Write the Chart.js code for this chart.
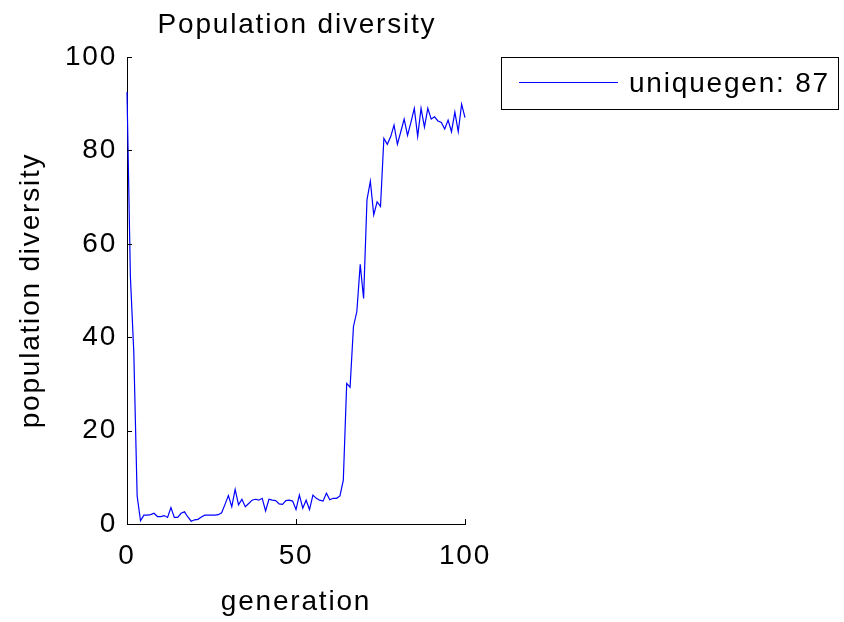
<!DOCTYPE html>
<html>
<head>
<meta charset="utf-8">
<title>Population diversity</title>
<script src="https://cdn.jsdelivr.net/npm/chart.js@4/dist/chart.umd.min.js"></script>
<style>
  html, body { margin: 0; padding: 0; background: #ffffff; }
  canvas { display: block; }
</style>
</head>
<body>
<canvas id="chart" width="844" height="622"></canvas>
<script>
// Generation index along the x axis
const generations = [
  0, 1, 2, 3, 4, 5, 6, 7, 8, 9,
  10, 11, 12, 13, 14, 15, 16, 17, 18, 19,
  20, 21, 22, 23, 24, 25, 26, 27, 28, 29,
  30, 31, 32, 33, 34, 35, 36, 37, 38, 39,
  40, 41, 42, 43, 44, 45, 46, 47, 48, 49,
  50, 51, 52, 53, 54, 55, 56, 57, 58, 59,
  60, 61, 62, 63, 64, 65, 66, 67, 68, 69,
  70, 71, 72, 73, 74, 75, 76, 77, 78, 79,
  80, 81, 82, 83, 84, 85, 86, 87, 88, 89,
  90, 91, 92, 93, 94, 95, 96, 97, 98, 99,
  100
];

// Number of unique genotypes per generation
const diversity = [
  92.5, 53, 37, 6, 0.7, 1.9, 1.9, 2.0, 2.3, 1.6,
  1.6, 1.8, 1.4, 3.5, 1.4, 1.4, 2.3, 2.6, 1.5, 0.6,
  0.9, 1.0, 1.5, 1.9, 1.9, 1.9, 1.9, 2.0, 2.4, 4.2,
  6.1, 3.7, 7.4, 4.1, 5.3, 3.7, 4.4, 5.1, 5.3, 5.1,
  5.5, 2.8, 5.3, 5.1, 5.0, 4.3, 4.2, 5.0, 5.1, 4.9,
  3.1, 6.2, 3.4, 5.1, 3.1, 6.2, 5.5, 5.1, 4.9, 6.6,
  5.2, 5.5, 5.5, 6.0, 9.4, 30.1, 29.3, 42.3, 45.5, 55.6,
  48.3, 69.4, 73.4, 66.2, 69, 68, 82.6, 81.3, 82.9, 85.4,
  81.3, 84, 86.7, 83.2, 86, 89, 83, 89, 85, 89,
  86.7, 87.2, 86.3, 86, 84.6, 86.5, 84, 88.2, 84, 89.9,
  87
];

const seriesName = 'uniquegen';
const xTickValues = [0, 50, 100];
const yTickValues = [0, 20, 40, 60, 80, 100];
const chartTitle = 'Population diversity';
const xTitle = 'generation';
const yTitle = 'population diversity';

const FONT_FAMILY = "'Liberation Sans', Arial, Helvetica, sans-serif";
const FONT_SIZE = 28;
const LETTER_SPACING = '1.8px';
const LINE_BLUE = '#0000ff';

// Legend entry shows the final generation's value
const legendText = seriesName + ': ' + Math.round(diversity[diversity.length - 1]);

const points = generations.map((g, i) => ({ x: g, y: diversity[i] }));

// Wider glyph spacing for all canvas text
const spacingPlugin = {
  id: 'spacing',
  beforeUpdate(chart) { chart.ctx.letterSpacing = LETTER_SPACING; },
  beforeDraw(chart) { chart.ctx.letterSpacing = LETTER_SPACING; }
};

// Inward-pointing tick marks on the left and bottom axes
const innerTicksPlugin = {
  id: 'innerTicks',
  afterDatasetsDraw(chart) {
    const { ctx, chartArea, scales } = chart;
    const len = 5;
    ctx.save();
    ctx.strokeStyle = '#000000';
    ctx.lineWidth = 1;
    ctx.beginPath();
    xTickValues.forEach(v => {
      const px = Math.round(scales.x.getPixelForValue(v)) + 0.5;
      ctx.moveTo(px, chartArea.bottom);
      ctx.lineTo(px, chartArea.bottom - len);
    });
    yTickValues.forEach(v => {
      const py = Math.round(scales.y.getPixelForValue(v)) + 0.5;
      ctx.moveTo(chartArea.left, py);
      ctx.lineTo(chartArea.left + len, py);
    });
    ctx.stroke();
    ctx.restore();
  }
};

// Title above the plot area and boxed legend to its right
const annotationPlugin = {
  id: 'annotations',
  afterDraw(chart) {
    const { ctx, chartArea } = chart;
    ctx.save();
    ctx.letterSpacing = LETTER_SPACING;
    ctx.font = FONT_SIZE + 'px ' + FONT_FAMILY;
    ctx.fillStyle = '#000000';
    ctx.textAlign = 'center';
    ctx.textBaseline = 'middle';
    ctx.fillText(chartTitle, (chartArea.left + chartArea.right) / 2 + 1, 25);

    // legend box
    const bx = 501.5, by = 57.5, bw = 337, bh = 52;
    ctx.fillStyle = '#ffffff';
    ctx.fillRect(bx, by, bw, bh);
    ctx.strokeStyle = '#000000';
    ctx.lineWidth = 1;
    ctx.strokeRect(bx, by, bw, bh);

    ctx.strokeStyle = LINE_BLUE;
    ctx.lineWidth = 1;
    ctx.beginPath();
    ctx.moveTo(519, 82.5);
    ctx.lineTo(618, 82.5);
    ctx.stroke();

    ctx.fillStyle = '#000000';
    ctx.textAlign = 'left';
    ctx.fillText(legendText, 629, 84);
    ctx.restore();
  }
};

const tickFont = { family: FONT_FAMILY, size: FONT_SIZE };

new Chart(document.getElementById('chart'), {
  type: 'line',
  data: {
    datasets: [{
      label: legendText,
      data: points,
      borderColor: LINE_BLUE,
      backgroundColor: LINE_BLUE,
      borderWidth: 1.2,
      pointRadius: 0,
      tension: 0,
      fill: false,
      clip: false
    }]
  },
  options: {
    responsive: false,
    animation: false,
    devicePixelRatio: 1,
    layout: { padding: { left: 0, top: 57, right: 379, bottom: 0 } },
    plugins: {
      legend: { display: false },
      title: { display: false },
      tooltip: { enabled: false }
    },
    scales: {
      x: {
        type: 'linear',
        min: 0,
        max: 100,
        afterBuildTicks(scale) { scale.ticks = xTickValues.map(v => ({ value: v })); },
        ticks: {
          font: tickFont,
          color: '#000000',
          padding: 15,
          maxRotation: 0,
          autoSkip: false
        },
        grid: { display: false, drawTicks: false },
        border: { display: true, color: '#000000', width: 1 },
        title: {
          display: true,
          text: xTitle,
          font: tickFont,
          color: '#000000',
          padding: { top: 0, bottom: 3 }
        },
        afterFit(scale) { scale.height = 98; }
      },
      y: {
        type: 'linear',
        min: 0,
        max: 100,
        afterBuildTicks(scale) { scale.ticks = yTickValues.map(v => ({ value: v })); },
        ticks: {
          font: tickFont,
          color: '#000000',
          padding: 10,
          autoSkip: false
        },
        grid: { display: false, drawTicks: false },
        border: { display: true, color: '#000000', width: 1 },
        title: {
          display: true,
          text: yTitle,
          font: tickFont,
          color: '#000000',
          padding: { top: 14, bottom: 0 }
        },
        afterFit(scale) { scale.width = 127; }
      }
    }
  },
  plugins: [spacingPlugin, innerTicksPlugin, annotationPlugin]
});
</script>
</body>
</html>
